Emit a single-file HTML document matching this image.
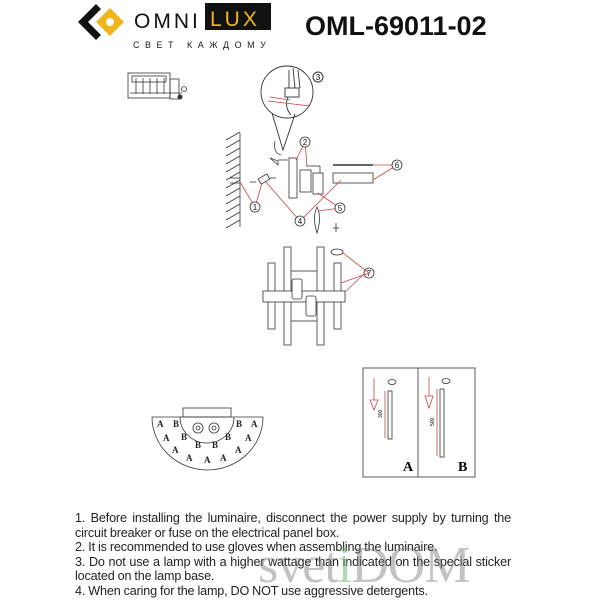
<!DOCTYPE html>
<html><head><meta charset="utf-8"><style>
body{margin:0;width:600px;height:600px;background:#fff;overflow:hidden;position:relative;font-family:"Liberation Sans",sans-serif}
.t{position:absolute;left:75px;width:436px;font-size:12.6px;line-height:14.6px;color:#222;top:511px;letter-spacing:-0.15px;word-spacing:-0.3px}
.t p{margin:0;white-space:nowrap}
.j{text-align:justify;text-align-last:justify;white-space:normal!important}
</style></head><body>
<svg width="600" height="600" style="position:absolute;left:0;top:0" font-family="Liberation Sans, sans-serif">
<polygon points="96,4 78,22 96,40 101,35 88,22 101,9" fill="#111"/>
<polygon points="110,8 124,22 110,36 96,22" fill="#f1b51c"/>
<circle cx="110" cy="22" r="4" fill="#fff"/>
<text x="134" y="28" font-size="21" letter-spacing="3" fill="#111">OMNI</text>
<rect x="205" y="3" width="66" height="27" fill="#111"/>
<text x="210" y="26" font-size="21" letter-spacing="3" fill="#f1b51c">LUX</text>
<text x="133" y="48" font-size="9" letter-spacing="5.5" fill="#222">СВЕТ КАЖДОМУ</text>
<text x="305" y="35" font-size="27" font-weight="bold" fill="#111">OML-69011-02</text>
<g stroke="#333" fill="none" stroke-width="0.8">
<rect x="128" y="73" width="42" height="25"/>
<rect x="132" y="76" width="34" height="6"/>
<line x1="136" y1="78" x2="136" y2="94"/><line x1="143" y1="78" x2="143" y2="94"/><line x1="150" y1="78" x2="150" y2="94"/><line x1="157" y1="78" x2="157" y2="94"/><line x1="164" y1="78" x2="164" y2="94"/>
<rect x="170" y="79" width="9" height="20"/>
<line x1="130" y1="93" x2="182" y2="93"/>
<circle cx="184" cy="89" r="2.5"/>
</g>
<circle cx="180" cy="97" r="2.5" fill="#333"/>
<g stroke="#333" fill="none" stroke-width="0.9">
<circle cx="287" cy="92" r="26"/>
<polyline points="272,113 283,150 295,114"/>
<rect x="285" y="88" width="14" height="9"/>
<line x1="289" y1="70" x2="289" y2="88"/><line x1="293" y1="68" x2="295" y2="88"/><line x1="298" y1="70" x2="300" y2="88"/>
<path d="M288 97 q-4 10 3 18"/>
</g>
<g stroke="#c44" stroke-width="0.8" fill="none">
<line x1="268" y1="101" x2="310" y2="106"/><line x1="270" y1="97" x2="290" y2="100"/>
</g>
<circle cx="318" cy="77" r="5" fill="#fff" stroke="#333"/><text x="318" y="80" font-size="8" text-anchor="middle">3</text>
<g stroke="#333" stroke-width="0.8" fill="none">
<line x1="240" y1="133" x2="240" y2="227"/>
<path d="M226 140 l14 -8 M226 148 l14 -8 M226 156 l14 -8 M226 164 l14 -8 M226 172 l14 -8 M226 180 l14 -8 M226 188 l14 -8 M226 196 l14 -8 M226 204 l14 -8 M226 212 l14 -8 M226 220 l14 -8 M226 228 l14 -8"/>
<line x1="230" y1="178" x2="240" y2="178"/><line x1="230" y1="183" x2="240" y2="183"/>
<rect x="289" y="158" width="8" height="40"/>
<rect x="300" y="170" width="11" height="22"/>
<rect x="313" y="173" width="10" height="21"/>
<line x1="306" y1="166" x2="320" y2="166"/><line x1="320" y1="166" x2="320" y2="173"/>
<rect x="333" y="173" width="40" height="10"/>
<line x1="333" y1="165" x2="373" y2="165" stroke-width="1.5"/>
<path d="M275 141 q-2 12 6 14 M278 160 l10 0 M270 158 l8 3 l0 4 z"/>
<rect x="259" y="176" width="10" height="6" transform="rotate(-30 264 179)"/>
<line x1="250" y1="182" x2="256" y2="182"/><line x1="270" y1="178" x2="276" y2="178"/>
<path d="M317 207 q-5 10 0 26 q5 -16 0 -26 z"/>
<line x1="336" y1="223" x2="336" y2="232"/><line x1="333" y1="228" x2="339" y2="228"/>
</g>
<g stroke="#c44" stroke-width="0.8" fill="none">
<polyline points="296,160 305,142 307,166"/>
<polyline points="240,182 255,207 262,183"/>
<polyline points="265,181 300,221 341,180"/>
<polyline points="318,193 340,208 318,211"/>
<polyline points="373,165 397,165 373,180"/>
</g>
<g fill="#fff" stroke="#333" stroke-width="0.8">
<circle cx="305" cy="142" r="5"/><circle cx="255" cy="207" r="5"/><circle cx="300" cy="221" r="5"/><circle cx="340" cy="208" r="5"/><circle cx="397" cy="165" r="5"/><circle cx="369" cy="273" r="5"/>
</g>
<g font-size="8" text-anchor="middle" fill="#111">
<text x="305" y="145">2</text><text x="255" y="210">1</text><text x="300" y="224">4</text><text x="340" y="211">5</text><text x="397" y="168">6</text><text x="369" y="276">7</text>
</g>
<g stroke="#333" stroke-width="0.8" fill="#fff">
<rect x="288" y="271" width="33" height="50"/>
<rect x="268" y="263" width="7" height="66"/><rect x="334" y="263" width="7" height="66"/>
<rect x="284" y="247" width="7" height="98"/><rect x="317" y="247" width="7" height="98"/>
<rect x="263" y="291" width="82" height="11"/>
<rect x="292" y="279" width="10" height="20" rx="2"/><rect x="306" y="296" width="10" height="20" rx="2"/>
<ellipse cx="337" cy="252" rx="6" ry="3"/>
</g>
<g stroke="#c44" stroke-width="0.8" fill="none"><polyline points="343,253 369,273 341,283"/><line x1="364" y1="274" x2="345" y2="292"/></g>
<g stroke="#333" stroke-width="0.8" fill="none">
<path d="M152 417 L263 417 A55.5 53 0 0 1 152 417 Z"/>
<rect x="183" y="408" width="48" height="9"/>
<path d="M180 417 A27 26 0 0 0 234 417"/>
<circle cx="198" cy="428" r="5"/><circle cx="198" cy="428" r="2"/>
<circle cx="214" cy="428" r="5"/><circle cx="214" cy="428" r="2"/>
</g>
<g font-family="Liberation Serif, serif" font-size="9" font-weight="bold" fill="#222">
<text x="157" y="427">A</text><text x="173" y="427">B</text><text x="236" y="427">B</text><text x="251" y="427">A</text>
<text x="163" y="441">A</text><text x="181" y="440">B</text><text x="225" y="440">B</text><text x="245" y="441">A</text>
<text x="172" y="453">A</text><text x="195" y="448">B</text><text x="212" y="448">B</text><text x="235" y="453">A</text>
<text x="186" y="461">A</text><text x="204" y="463">A</text><text x="220" y="461">A</text>
</g>
<g stroke="#333" stroke-width="0.8" fill="none">
<rect x="363" y="368" width="112" height="109"/>
<line x1="418" y1="368" x2="418" y2="477"/>
<rect x="388" y="391" width="4" height="48"/>
<ellipse cx="392" cy="382" rx="4" ry="2.5"/>
<rect x="440" y="389" width="4" height="68"/>
<ellipse cx="446" cy="381" rx="4" ry="2.5"/>
</g>
<g stroke="#c44" stroke-width="0.8" fill="none">
<line x1="374" y1="378" x2="374" y2="400"/><polygon points="370,400 378,400 374,410"/>
<line x1="385" y1="391" x2="385" y2="438"/>
<line x1="429" y1="377" x2="429" y2="396"/><polygon points="425,396 433,396 429,408"/>
<line x1="437" y1="389" x2="437" y2="456"/>
</g>
<text x="382" y="418" font-size="5" transform="rotate(-90 382 418)">300</text>
<text x="434" y="426" font-size="5" transform="rotate(-90 434 426)">500</text>
<text x="403" y="471" font-family="Liberation Serif, serif" font-size="14" font-weight="bold">A</text>
<text x="458" y="471" font-family="Liberation Serif, serif" font-size="14" font-weight="bold">B</text>
</svg>
<div class="t">
<p class="j">1. Before installing the luminaire, disconnect the power supply by turning the</p>
<p>circuit breaker or fuse on the electrical panel box.</p>
<p>2. It is recommended to use gloves when assembling the luminaire.</p>
<p class="j">3. Do not use a lamp with a higher wattage than indicated on the special sticker</p>
<p>located on the lamp base.</p>
<p>4. When caring for the lamp, DO NOT use aggressive detergents.</p>
</div>
<div style="position:absolute;left:258px;top:536px;font-family:'Liberation Serif',serif;font-size:52px;color:rgba(120,120,120,0.45);letter-spacing:-1px">svet<span style="color:rgba(100,180,100,0.5)">i</span>DOM</div>
</body></html>
